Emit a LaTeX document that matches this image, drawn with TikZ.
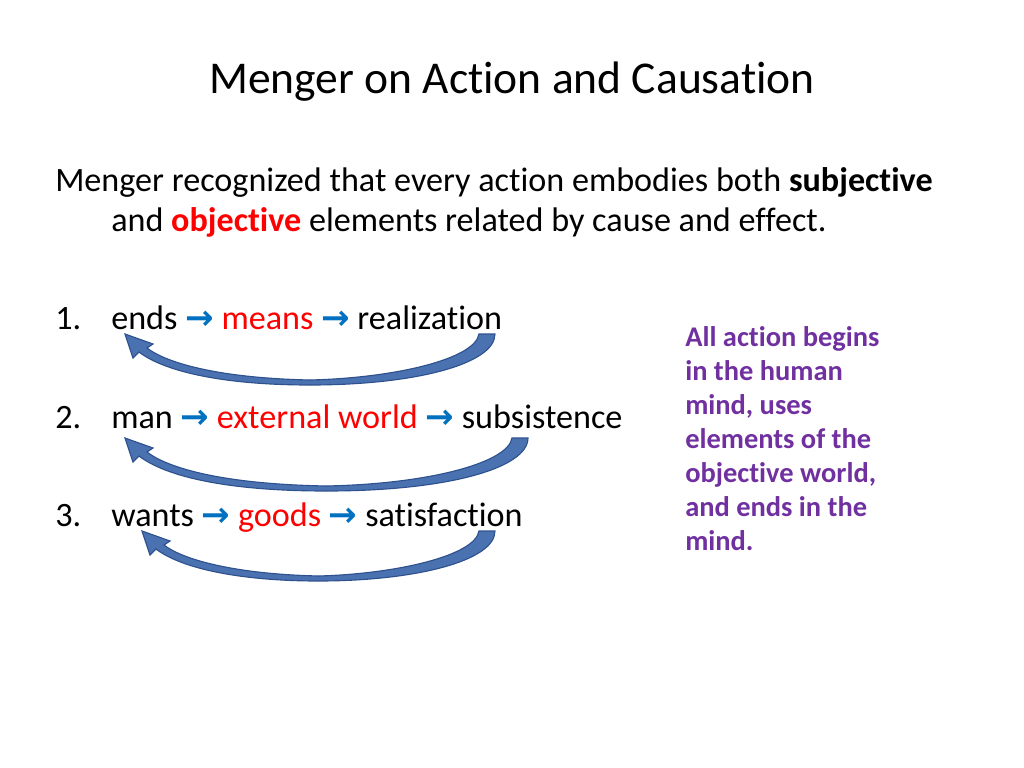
\documentclass[tikz,border=0pt]{standalone}
\usepackage{fontspec}
\setmainfont[Ligatures={NoCommon}]{Carlito}
\newfontfamily\arfont{DejaVu Sans}
\definecolor{blu}{HTML}{0070C0}
\definecolor{rd}{HTML}{FF0000}
\definecolor{pur}{HTML}{7030A0}
\definecolor{arf}{HTML}{4A72B0}
\definecolor{ard}{HTML}{2F528F}
\newcommand\ar{\textcolor{blu}{\arfont\bfseries →}}
\newcommand\bigarrow[4]{% L R T B
 \pgfmathsetmacro\mid{(#1+#2)/2}
 \fill[arf,draw=ard,line width=0.8pt] (#2,#3) -- (#2-16,#3) .. controls (#2-20,#3+25) and (#2-100,#4-6) .. (\mid,#4-4)
 .. controls (#1+90,#4-6) and (#1+40,#3+28) .. (#1+22,#3+14) -- (#1+28,#3+10) -- (#1,#3) -- (#1+8,#3+24) -- (#1+14,#3+18)
 .. controls (#1+40,#3+38) and (#1+100,#4+1) .. (\mid,#4+1) .. controls (#2-80,#4+1) and (#2,#3+30) .. (#2,#3) -- cycle;}
\begin{document}
\begin{tikzpicture}[x=0.703pt,y=-0.703pt,
  body/.style={anchor=base west,inner sep=0pt,font=\fontsize{24}{28}\selectfont},
  side/.style={anchor=base west,inner sep=0pt,font=\fontsize{20}{24}\selectfont\bfseries,text=pur}]
\useasboundingbox (0,0) rectangle (1024,768);
\node[font=\fontsize{32}{38}\selectfont] (title) at (512,82) {Menger on Action and Causation};
\node[body] (p1) at (55,191) {Menger recognized that every action embodies both \textbf{subjective}};
\node[body] (p2) at (111,231) {and \textbf{\textcolor{rd}{objective}} elements related by cause and effect.};
\node[body] (n1) at (55,329) {1.};
\node[body] (l1) at (111,329) {ends \ar{} \textcolor{rd}{means} \ar{} realization};
\node[body] (n2) at (55,428) {2.};
\node[body] (l2) at (111,428) {man \ar{} \textcolor{rd}{external world} \ar{} subsistence};
\node[body] (n3) at (55,526) {3.};
\node[body] (l3) at (111,526) {wants \ar{} \textcolor{rd}{goods} \ar{} satisfaction};
\bigarrow{125}{495}{334}{384}
\bigarrow{125}{528}{438}{490}
\bigarrow{142}{495}{531}{580}
\foreach \t [count=\i] in {All action begins,in the human,{mind, uses},elements of the,{objective world,},and ends in the,mind.}
  \node[side] (s\i) at (685,{339+34*(\i-1)+7}) {\t};
\end{tikzpicture}
\end{document}
